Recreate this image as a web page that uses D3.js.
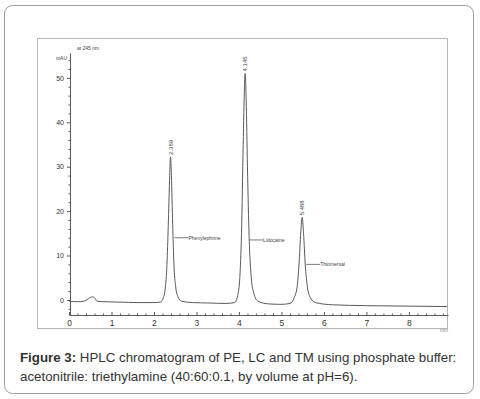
<!DOCTYPE html>
<html>
<head>
<meta charset="utf-8">
<script src="https://cdn.jsdelivr.net/npm/d3@7"></script>
<style>
    body { margin: 0; background: #fff; }
    svg text { font-family: "Liberation Sans", Arial, sans-serif; }
</style>
</head>
<body>
<div id="chart"></div>
<script>

// chromatogram trace: [time (min), signal (mAU)]
let trace = [
    [0, -0.3], [0.2, -0.4], [0.35, -0.3], [0.45, 0.2], [0.55, 0.7], [0.6, 0.5], [0.66, -0.3],
    [0.8, -0.4], [1.2, -0.5], [1.6, -0.6], [2.0, -0.6], [2.15, -0.5], [2.22, 0.5], [2.27, 3],
    [2.31, 9], [2.34, 18], [2.37, 28], [2.389, 32.2], [2.41, 28], [2.44, 17], [2.47, 8],
    [2.51, 3], [2.56, 0.8], [2.65, -0.3], [2.9, -0.6], [3.3, -0.7], [3.7, -0.8], [3.9, -0.6],
    [3.97, 1], [4.02, 5], [4.06, 15], [4.1, 35], [4.13, 48], [4.145, 51], [4.17, 45],
    [4.2, 30], [4.24, 14], [4.29, 5], [4.35, 1.5], [4.45, -0.3], [4.7, -0.9], [5.0, -1.0],
    [5.2, -0.8], [5.3, 0.5], [5.37, 3], [5.42, 9], [5.46, 16], [5.488, 18.6], [5.52, 15],
    [5.56, 8], [5.61, 3], [5.68, 0.5], [5.8, -0.6], [6.2, -1.1], [7, -1.3], [8, -1.4], [8.9, -1.5]
];

// peaks: retention time, apex height, compound name, height where the name is pinned
let peakTimes = [2.389, 4.145, 5.488];
let peakHeights = [32.2, 51, 18.6];
let peakNames = ["Phenylephrine", "Lidocaine", "Thiomersal"];
let nameLevels = [14, 13.5, 8];

let xTicks = [0, 1, 2, 3, 4, 5, 6, 7, 8];
let yTicks = [0, 10, 20, 30, 40, 50];

let W = 480, H = 399;

let svg = d3.select("#chart").append("svg")
    .attr("width", W)
    .attr("height", H);

// outer rounded box
svg.append("rect")
    .attr("x", 4.5).attr("y", 5.5)
    .attr("width", 469).attr("height", 388)
    .attr("rx", 8).attr("ry", 8)
    .style("fill", "none")
    .style("stroke", "#a0a0a0");

// scanned chart frame
svg.append("rect")
    .attr("x", 37.5).attr("y", 38.5)
    .attr("width", 410).attr("height", 290)
    .style("fill", "none")
    .style("stroke", "#b5b5b5");

let x = d3.scaleLinear().domain([0, 8.92]).range([69, 448]);
let y = d3.scaleLinear().domain([-3.4, 55.6]).range([315, 53]);

let ink = "#5a5a5a";

// y axis
let yAxis = svg.append("g")
    .attr("transform", "translate(70,0)")
    .call(d3.axisLeft(y).tickValues(yTicks).tickSize(3).tickPadding(3).tickSizeOuter(0));
svg.append("g")
    .attr("transform", "translate(70,0)")
    .call(d3.axisLeft(y).tickValues(d3.range(-2, 55, 2).filter(v => v % 10 !== 0)).tickSize(1.5).tickFormat("").tickSizeOuter(0))
    .select(".domain").remove();

// x axis
let xAxis = svg.append("g")
    .attr("transform", "translate(0,315)")
    .call(d3.axisBottom(x).tickValues(xTicks).tickSize(-3).tickPadding(5).tickSizeOuter(0));
svg.append("g")
    .attr("transform", "translate(0,315)")
    .call(d3.axisBottom(x).tickValues(d3.range(0.2, 8.9, 0.2).filter(v => Math.abs(v - Math.round(v)) > 0.01)).tickSize(-1.5).tickFormat("").tickSizeOuter(0))
    .select(".domain").remove();

svg.selectAll(".domain, .tick line").style("stroke", ink);
yAxis.selectAll("text").style("font-size", "7px").style("fill", "#333");
xAxis.selectAll("text").style("font-size", "8.5px").style("fill", "#333");

svg.append("text")
    .attr("x", 67).attr("y", 60)
    .attr("text-anchor", "end")
    .style("font-size", "5px").style("fill", "#444")
    .text("mAU");
svg.append("text")
    .attr("x", 77).attr("y", 50)
    .style("font-size", "5px").style("fill", "#444")
    .text("at 245 nm");
svg.append("text")
    .attr("x", 448).attr("y", 332)
    .attr("text-anchor", "end")
    .style("font-size", "5px").style("fill", "#888")
    .text("min");

// trace
let line = d3.line()
    .x(d => x(d[0]))
    .y(d => y(d[1]))
    .curve(d3.curveMonotoneX);

svg.append("path")
    .datum(trace)
    .attr("d", line)
    .style("fill", "none")
    .style("stroke", ink)
    .style("stroke-width", 1);

// retention time labels above each apex
svg.selectAll("text.rt")
    .data(peakTimes)
    .enter().append("text")
    .attr("class", "rt")
    .attr("transform", (d, i) => `translate(${x(d) + 2}, ${y(peakHeights[i]) - 2}) rotate(-90)`)
    .style("font-size", "6px").style("fill", "#444")
    .text(d => d3.format(".3f")(d));

// compound names with leader lines
peakTimes.forEach((t, i) => {
    let xs = x(t) + 4, ly = y(nameLevels[i]);
    svg.append("line")
        .attr("x1", xs).attr("x2", xs + 14)
        .attr("y1", ly).attr("y2", ly)
        .style("stroke", ink).style("stroke-width", 0.8);
    svg.append("text")
        .attr("x", xs + 14).attr("y", ly + 1.8)
        .style("font-size", "5px").style("fill", "#444")
        .text(peakNames[i]);
});

// caption
let cap = svg.append("text")
    .attr("x", 20).attr("y", 362)
    .style("font-size", "13.3px").style("fill", "#333");
cap.append("tspan").style("font-weight", "bold").text("Figure 3:");
cap.append("tspan").text(" HPLC chromatogram of PE, LC and TM using phosphate buffer:");
svg.append("text")
    .attr("x", 20).attr("y", 381)
    .style("font-size", "13.3px").style("fill", "#333")
    .text("acetonitrile: triethylamine (40:60:0.1, by volume at pH=6).");

</script>
</body>
</html>
